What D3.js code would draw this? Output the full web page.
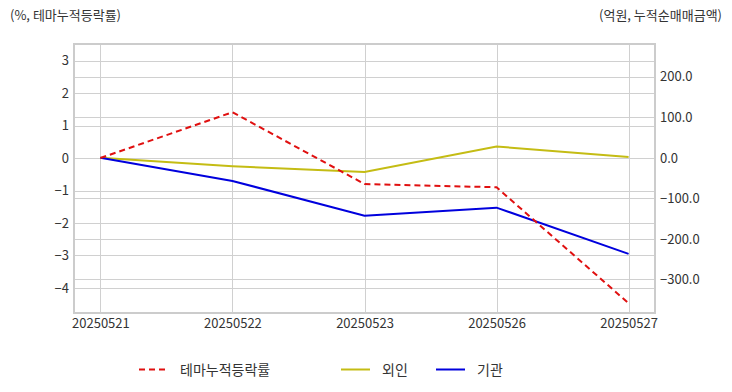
<!DOCTYPE html>
<html><head><meta charset="utf-8">
<script src="https://cdn.jsdelivr.net/npm/d3@7"></script>
<style>
body{margin:0;background:#fff;}
text{font-family:"Noto Sans CJK KR","Noto Sans",sans-serif;}
</style></head>
<body><svg id="c" width="732" height="392"></svg>
<script>
const categories = ["20250521","20250522","20250523","20250526","20250527"];
const themeRate = [0, 1.41, -0.80, -0.90, -4.47];
const foreign = [0, -21, -35, 28, 2];
const institution = [0, -57, -143, -123, -237];
const leftTicks = [3,2,1,0,-1,-2,-3,-4];
const rightTicks = [200,100,0,-100,-200,-300];

const svg = d3.select("#c");
const L=74, R=655, T=44, B=313;
const x = d3.scalePoint().domain(categories).range([L,R]).padding(0.2);
const yL = d3.scaleLinear().domain([-4.77,3.51]).range([B,T]);
const yR = d3.scaleLinear().domain([-383,281]).range([B,T]);

const grid = svg.append("g").attr("stroke","#d0d0d0").attr("stroke-width",1);
leftTicks.forEach(t=>grid.append("line").attr("x1",L).attr("x2",R).attr("y1",Math.round(yL(t))+0.5).attr("y2",Math.round(yL(t))+0.5));
rightTicks.forEach(t=>grid.append("line").attr("x1",L).attr("x2",R).attr("y1",Math.round(yR(t))+0.5).attr("y2",Math.round(yR(t))+0.5));
categories.forEach(c=>grid.append("line").attr("y1",T).attr("y2",B).attr("x1",Math.round(x(c))+0.5).attr("x2",Math.round(x(c))+0.5));
svg.append("rect").attr("x",L).attr("y",T).attr("width",R-L).attr("height",B-T).attr("fill","none").attr("stroke","#cccccc").attr("stroke-width",2);

const axL = svg.append("g").attr("transform",`translate(${L},0)`).call(d3.axisLeft(yL).tickValues(leftTicks).tickSize(0).tickPadding(5).tickFormat(d3.format("d")));
const axR = svg.append("g").attr("transform",`translate(${R},0)`).call(d3.axisRight(yR).tickValues(rightTicks).tickSize(0).tickPadding(5).tickFormat(d3.format(".1f")));
const axB = svg.append("g").attr("transform",`translate(0,${B})`).call(d3.axisBottom(x).tickSize(0).tickPadding(6));
[axL,axR,axB].forEach(a=>{a.select(".domain").remove();a.selectAll("text").attr("fill","#333").style("font-size","13px").style("font-family",'"Noto Sans CJK KR","Noto Sans",sans-serif');});

const lineL = d3.line().x((d,i)=>x(categories[i])).y(d=>yL(d));
const lineR = d3.line().x((d,i)=>x(categories[i])).y(d=>yR(d));
svg.append("path").datum(foreign).attr("d",lineR).attr("fill","none").attr("stroke","#c4bc14").attr("stroke-width",2);
svg.append("path").datum(institution).attr("d",lineR).attr("fill","none").attr("stroke","#0000dd").attr("stroke-width",2);
svg.append("path").datum(themeRate).attr("d",lineL).attr("fill","none").attr("stroke","#e01010").attr("stroke-width",2).attr("stroke-dasharray","6,4");

svg.append("text").attr("x",10).attr("y",20).attr("fill","#333").style("font-size","13px").text("(%, 테마누적등락률)");
svg.append("text").attr("x",722).attr("y",20).attr("text-anchor","end").attr("fill","#333").style("font-size","13px").text("(억원, 누적순매매금액)");

const legend = [
 {name:"테마누적등락률",color:"#e01010",dash:"6,4",x:139},
 {name:"외인",color:"#c4bc14",dash:null,x:341},
 {name:"기관",color:"#0000dd",dash:null,x:436}
];
legend.forEach(l=>{
  svg.append("line").attr("x1",l.x).attr("x2",l.x+29).attr("y1",369.5).attr("y2",369.5).attr("stroke",l.color).attr("stroke-width",2).attr("stroke-dasharray",l.dash);
  svg.append("text").attr("x",l.x+41).attr("y",375).attr("fill","#333").style("font-size","14px").text(l.name);
});
</script></body></html>
